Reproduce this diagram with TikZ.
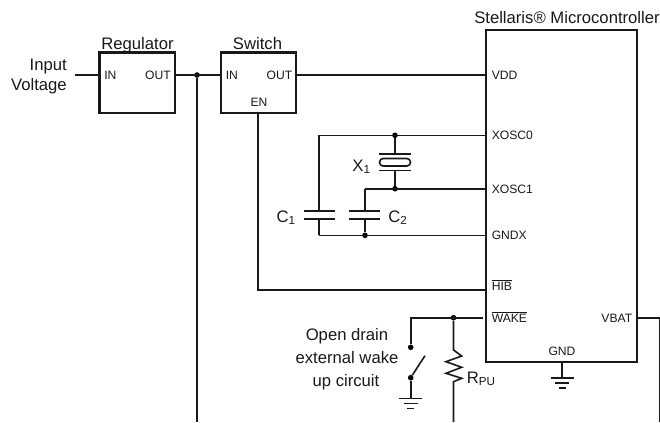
\documentclass[tikz,border=0pt]{standalone}
\usepackage{fontspec}
\setmainfont{Liberation Sans}
\tikzset{
  wire/.style={line width=1.6*0.75pt,black!90,line cap=butt,line join=miter},
  thick wire/.style={line width=2.1*0.75pt,black!90},
  boxpart/.style={draw=black!90,line width=2.2*0.75pt,minimum width=0,inner sep=0},
  dotpart/.style={circle,fill=black,inner sep=0,minimum size=4.2pt},
  big/.style={inner sep=0,font=\fontsize{12.5pt}{15pt}\selectfont,text=black!90},
  pin/.style={inner sep=0,font=\fontsize{9.1pt}{11pt}\selectfont,text=black!90},
}
\newcommand{\gndsym}[3]{%
  \draw[wire] (#1-11.5*#3,#2) -- (#1+11.5*#3,#2);
  \draw[wire] (#1-7*#3,#2+5) -- (#1+7*#3,#2+5);
  \draw[wire] (#1-3.5*#3,#2+10) -- (#1+3.5*#3,#2+10);
}
\begin{document}
\begin{tikzpicture}[x=0.75pt,y=-0.75pt]
\useasboundingbox (0,0) rectangle (660,422);
% boxes
\coordinate (regNW) at (99.5,52.5); \coordinate (regSE) at (175,113);
\coordinate (swNW) at (221,52.5); \coordinate (swSE) at (296,113);
\coordinate (mcNW) at (486,30); \coordinate (mcSE) at (637,362);
\draw[boxpart] (regNW) rectangle (regSE);
\draw[boxpart] (swNW) rectangle (swSE);
\draw[boxpart] (mcNW) rectangle (mcSE);
% junctions and ends
\coordinate (inEnd) at (75,75);
\coordinate (regIn) at (99.5,75);
\coordinate (regOut) at (175,75);
\node[dotpart] (jA) at (197,75) {};
\coordinate (swIn) at (221,75);
\coordinate (swOut) at (296,75);
\coordinate (vdd) at (486,75);
\coordinate (aBot) at (197,422);
\coordinate (en) at (258,113);
\coordinate (enC) at (258,290);
\coordinate (hib) at (486,290);
\draw[thick wire] (inEnd) -- (regIn);
\draw[thick wire] (regOut) -- (swIn);
\draw[wire] (jA) -- (aBot);
\draw[thick wire] (swOut) -- (vdd);
\draw[thick wire] (en) -- (enC) -- (hib);
% crystal section
\coordinate (c1Top) at (319,135.3);
\node[dotpart] (jB) at (395,135.3) {};
\coordinate (x0) at (486,135.3);
\node[dotpart] (jC) at (395,188.7) {};
\coordinate (c2Top) at (365,188.7);
\coordinate (x1) at (486,188.7);
\coordinate (c1Bot) at (319,235.3);
\node[dotpart] (jD) at (365,235.3) {};
\coordinate (gx) at (486,235.3);
\draw[wire] (c1Bot) -- (c1Top |- 0,218.7);
\draw[wire] (c1Top |- 0,210.7) -- (c1Top) -- (x0);
\draw[wire] (jB) -- (395,153.7);
\draw[wire] (jC) -- (395,170.3);
\draw[wire] (c2Top) -- (x1);
\draw[wire] (c2Top) -- (365,210.7);
\draw[wire] (jD) -- (365,218.7);
\draw[wire] (c1Bot) -- (gx);
\draw[wire] (379,153.7) -- (411,153.7);
\draw[wire] (379,170.3) -- (411,170.3);
\draw[wire,rounded corners=3.6*0.75pt] (379.5,158.5) rectangle (410.5,166);
\draw[wire] (304,210.7) -- (335,210.7);
\draw[wire] (304,218.7) -- (335,218.7);
\draw[wire] (349,210.7) -- (380,210.7);
\draw[wire] (349,218.7) -- (380,218.7);
% wake
\coordinate (wk) at (483,317.7);
\node[dotpart] (jE) at (453.5,317.7) {};
\node[dotpart] (swT) at (410.7,347.3) {};
\node[dotpart] (swB) at (410.7,377.7) {};
\coordinate (swBlade) at (425,355.7);
\coordinate (swG) at (410.7,398.3);
\draw[wire] (wk) -- (410.7,317.7) -- (swT);
\draw[wire] (swB) -- (swBlade);
\draw[wire] (swB) -- (swG);
\gndsym{410.7}{398.3}{1}
\draw[wire] (jE) -- (453.5,350) -- (461.7,356) -- (446,361.7) -- (461.7,367.3) -- (446,373.3) -- (461.7,378.3) -- (453.5,381.7) -- (453.5,422);
% vbat, gnd
\coordinate (vb) at (637,317.7);
\coordinate (vbC) at (659.5,317.7);
\coordinate (vbBot) at (659.5,422);
\draw[wire] (vb) -- (vbC) -- (vbBot);
\coordinate (gg) at (562,362);
\coordinate (gg2) at (562,378);
\draw[wire] (gg) -- (gg2);
\gndsym{562}{378}{1}
% text
\node[big,anchor=base east] (t1) at (67,70) {Input};
\node[big,anchor=base east] (t2) at (67,90) {Voltage};
\node[big,anchor=base] (t3) at (137.5,49) {Regulator};
\node[big,anchor=base] (t4) at (257.5,49) {Switch};
\node[big,anchor=base east] (t5) at (660,23) {Stellaris® Microcontroller};
\node[pin,anchor=base west] (p1) at (104,79.5) {IN};
\node[pin,anchor=base east] (p2) at (171,79.5) {OUT};
\node[pin,anchor=base west] (p3) at (225.5,79.5) {IN};
\node[pin,anchor=base east] (p4) at (292.5,79.5) {OUT};
\node[pin,anchor=base] (p5) at (259,106) {EN};
\node[pin,anchor=base west] (p6) at (491.5,79.5) {VDD};
\node[pin,anchor=base west] (p7) at (491.5,139.5) {XOSC0};
\node[pin,anchor=base west] (p8) at (491.5,193) {XOSC1};
\node[pin,anchor=base west] (p9) at (491.5,239.5) {GNDX};
\node[pin,anchor=base west] (p10) at (491.5,290.5) {$\overline{\mbox{HIB}}$};
\node[pin,anchor=base west] (p11) at (491.5,322) {$\overline{\mbox{WAKE}}$};
\node[pin,anchor=base east] (p12) at (632.5,322) {VBAT};
\node[pin,anchor=base] (p13) at (562,355) {GND};
\node[big,anchor=base east] (x) at (371,171) {X\textsubscript{1}};
\node[big,anchor=base east] (c1) at (296,222) {C\textsubscript{1}};
\node[big,anchor=base west] (c2) at (388,222) {C\textsubscript{2}};
\node[big,anchor=base west] (r) at (466.5,383) {R\textsubscript{PU}};
\node[big,anchor=base] (o1) at (347,340) {Open drain};
\node[big,anchor=base] (o2) at (347,363) {external wake};
\node[big,anchor=base] (o3) at (346,386) {up circuit};
\end{tikzpicture}
\end{document}
